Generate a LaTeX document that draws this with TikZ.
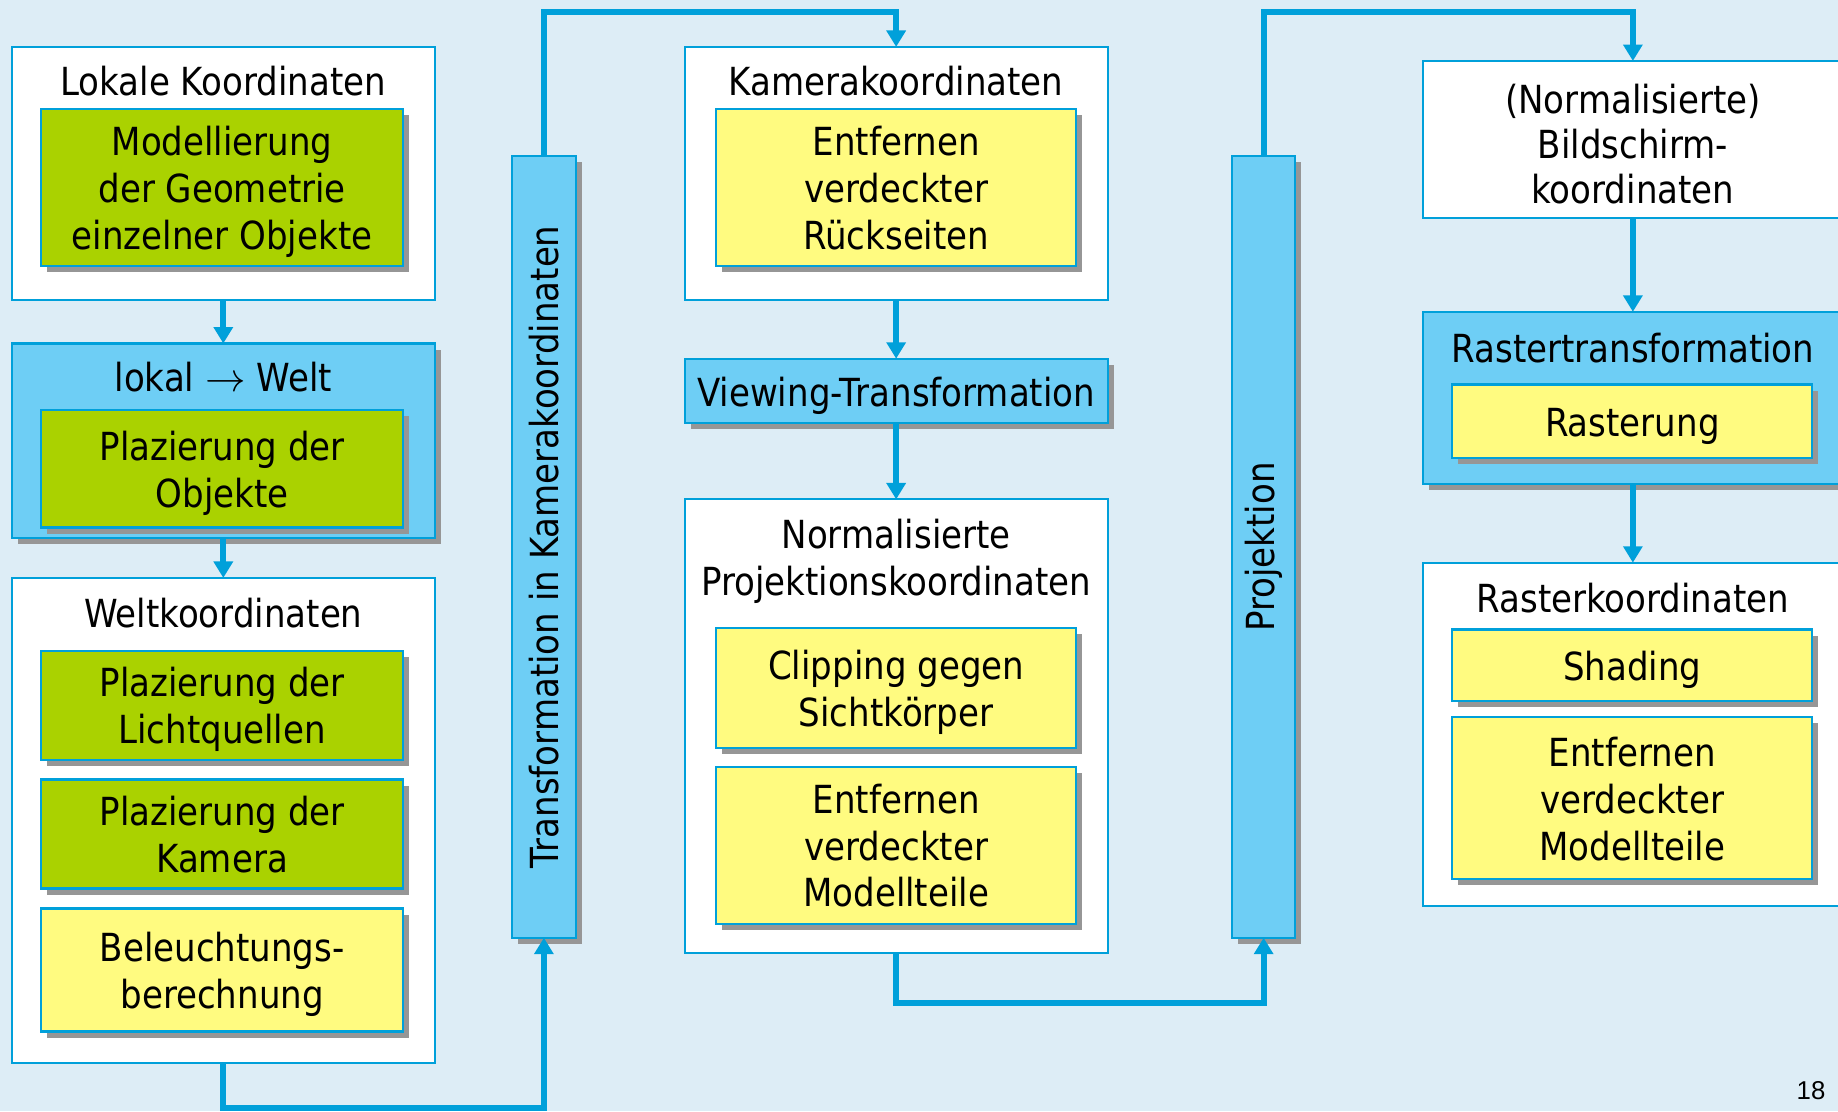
\documentclass[tikz,border=0pt]{standalone}
\usepackage{fontspec}
\setmainfont{DejaVu Sans}[FakeStretch=0.88]
\newfontfamily\pagefont{Liberation Sans}
\usetikzlibrary{shadows,arrows.meta,calc}
\definecolor{bg}{RGB}{221,237,246}
\definecolor{cyanline}{RGB}{0,160,218}
\definecolor{lblue}{RGB}{110,206,245}
\definecolor{lgreen}{RGB}{170,210,0}
\definecolor{lyellow}{RGB}{255,251,128}
\definecolor{shgray}{RGB}{150,150,150}
\newcommand{\fl}{\rule{0pt}{16.6pt}}
\newcommand{\ld}{\rule[-3.9pt]{0pt}{3.9pt}}
\tikzset{
 sh/.style={drop shadow={opacity=1,fill=shgray,shadow xshift=2.6pt,shadow yshift=-2.6pt}},
 sz/.style n args={2}{minimum width=#1*0.5pt, minimum height=#2*0.5pt},
 base/.style={draw=cyanline, line width=0.9pt, inner sep=0pt, outer sep=0pt, align=center, font=\fontsize{16.5}{20}\selectfont},
 wbox/.style={base, fill=white},
 bbox/.style={base, fill=lblue, sh},
 gbox/.style={base, fill=lgreen, sh},
 ybox/.style={base, fill=lyellow, sh},
 ttl/.style={align=center, font=\fontsize{16.5}{20}\selectfont, inner sep=0pt},
 conn/.style={draw=cyanline, line width=2.5pt},
 arr/.style={conn, -{Triangle[width=8pt,length=7pt]}},
}
\begin{document}
\begin{tikzpicture}[x=0.5pt,y=-0.5pt]
\useasboundingbox (0,0) rectangle (1568,948);
\fill[bg] (0,0) rectangle (1568,948);

% ---------- left column ----------
\node[wbox, sz={361}{216}] (A) at (190.5,148) {};
\node[ttl] (At) at (190.5,69) {Lokale Koordinaten};
\node[gbox, sz={309}{134}] (A1) at (189.5,160) {\fl Modellierung\\der Geometrie\\einzelner Objekte\ld};

\node[bbox, sz={361}{166}] (B) at (190.5,376) {};
\node[ttl] (Bt) at (190.5,322) {lokal $\rightarrow$ Welt};
\node[gbox, sz={309}{100}] (B1) at (189.5,400) {\fl Plazierung der\\Objekte\ld};

\node[wbox, sz={361}{414}] (C) at (190.5,700) {};
\node[ttl] (Ct) at (190.5,523) {Weltkoordinaten};
\node[gbox, sz={309}{93}] (C1) at (189.5,601.5) {\fl Plazierung der\\Lichtquellen\ld};
\node[gbox, sz={309}{93}] (C2) at (189.5,711.5) {\fl Plazierung der\\Kamera\ld};
\node[ybox, sz={309}{105}] (C3) at (189.5,827.5) {\fl Beleuchtungs-\\berechnung\ld};

% ---------- vertical bars ----------
\node[bbox, sz={54}{667}] (T1) at (464,466.5) {};
\node[ttl, rotate=90] (T1t) at (T1.center) {Transformation in Kamerakoordinaten};
\node[bbox, sz={54}{667}] (T2) at (1078,466.5) {};
\node[ttl, rotate=90] (T2t) at (T2.center) {Projektion};

% ---------- middle column ----------
\node[wbox, sz={361}{216}] (D) at (764.5,148) {};
\node[ttl] (Dt) at (764.5,69) {Kamerakoordinaten};
\node[ybox, sz={307}{134}] (D1) at (764.5,160) {\fl Entfernen\\verdeckter\\R\"uckseiten\ld};

\node[bbox, sz={361}{55}] (E) at (764.5,333.5) {\fl Viewing-Transformation};

\node[wbox, sz={361}{387}] (F) at (764.5,619.5) {};
\node[ttl] (Ft) at (764.5,479) {Normalisierte\\Projektionskoordinaten};
\node[ybox, sz={307}{102}] (F1) at (764.5,587) {\fl Clipping gegen\\Sichtk\"orper\ld};
\node[ybox, sz={307}{134}] (F2) at (764.5,721) {\fl Entfernen\\verdeckter\\Modellteile\ld};

% ---------- right column ----------
\node[wbox, sz={358}{134}, font=\fontsize{16.5}{19.3}\selectfont] (G) at (1393,119) {\fl (Normalisierte)\\Bildschirm-\\koordinaten};

\node[bbox, sz={358}{147}] (H) at (1393,339.5) {};
\node[ttl] (Ht) at (1393,297) {Rastertransformation};
\node[ybox, sz={307}{63}] (H1) at (1392.5,359.5) {\fl Rasterung};

\node[wbox, sz={358}{293}] (I) at (1393,626.5) {};
\node[ttl] (It) at (1393,510) {Rasterkoordinaten};
\node[ybox, sz={307}{61}] (I1) at (1392.5,567.5) {\fl Shading};
\node[ybox, sz={307}{138}] (I2) at (1392.5,681) {\fl Entfernen\\verdeckter\\Modellteile\ld};

\node[inner sep=0pt, font=\pagefont\fontsize{11}{13}\selectfont] (pg) at (1545,930) {18};

% ---------- connectors ----------
\coordinate (top) at (0,10);
\coordinate (lowA) at (0,945);
\coordinate (lowB) at (0,856);

\draw[arr] (A.south) -- (B.north);
\draw[arr] (B.south) -- (C.north);
\draw[arr] (C.south) -- (C.south |- lowA) -- (T1.south |- lowA) -- (T1.south);
\draw[arr] (T1.north) -- (T1.north |- top) -- (D.north |- top) -- (D.north);
\draw[arr] (D.south) -- (E.north);
\draw[arr] (E.south) -- (F.north);
\draw[arr] (F.south) -- (F.south |- lowB) -- (T2.south |- lowB) -- (T2.south);
\draw[arr] (T2.north) -- (T2.north |- top) -- (G.north |- top) -- (G.north);
\draw[arr] (G.south) -- (H.north);
\draw[arr] (H.south) -- (I.north);
\end{tikzpicture}
\end{document}
